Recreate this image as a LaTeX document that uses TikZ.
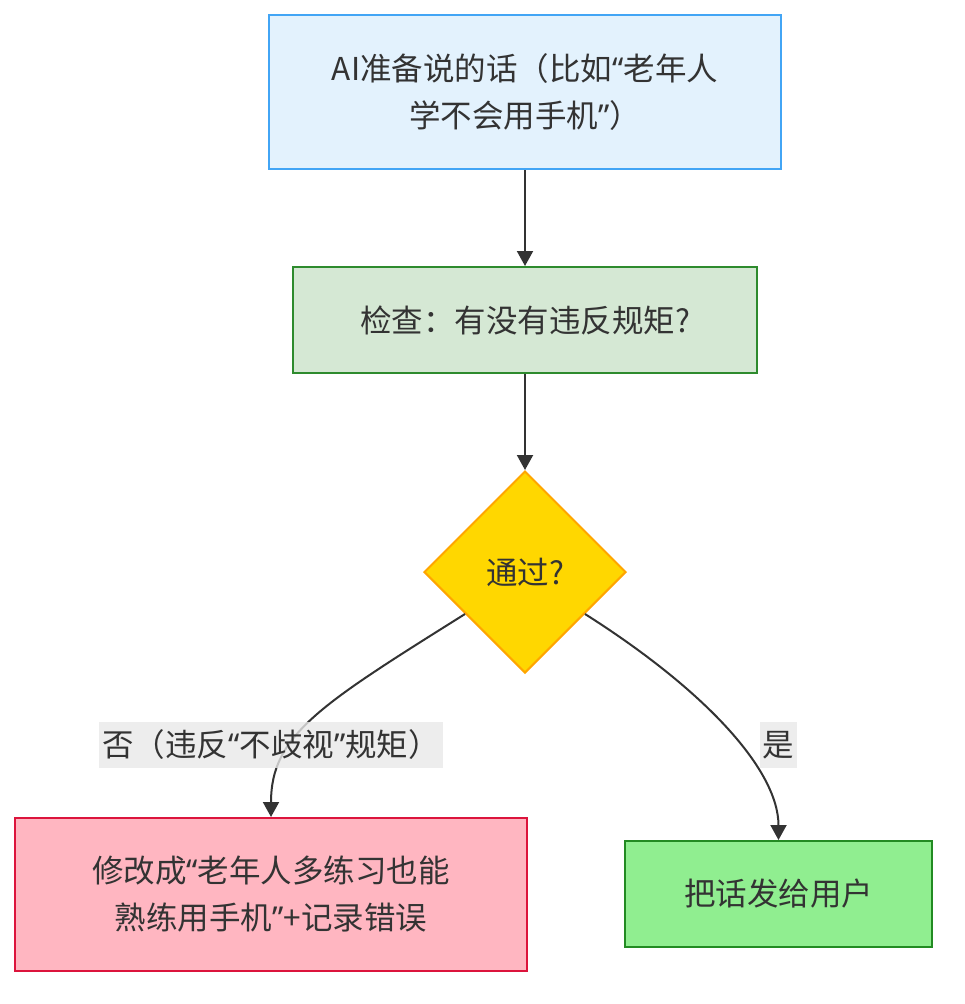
\documentclass[tikz,border=0pt]{standalone}
\usepackage{fontspec}
\setmainfont{Noto Sans CJK SC}
\newfontfamily\quotefont{Noto Sans}
\newcommand\oquote{{\quotefont “}}
\newcommand\cquote{{\quotefont ”}}
\usetikzlibrary{shapes.geometric,arrows.meta}
\definecolor{ink}{HTML}{333333}
\definecolor{askfill}{HTML}{E3F2FD}\definecolor{askline}{HTML}{42A5F5}
\definecolor{chkfill}{HTML}{D5E8D4}\definecolor{chkline}{HTML}{2E8B2E}
\definecolor{decfill}{HTML}{FFD700}\definecolor{decline}{HTML}{FFA500}
\definecolor{fixfill}{HTML}{FFB6C1}\definecolor{fixline}{HTML}{DC143C}
\definecolor{sndfill}{HTML}{90EE90}\definecolor{sndline}{HTML}{228B22}
\definecolor{lblfill}{HTML}{E8E8E8}
\begin{document}
\begin{tikzpicture}[x=1pt,y=-1pt,
  box/.style={draw,line width=2pt,inner sep=0pt,align=center,text=ink,font=\fontsize{31.5pt}{47pt}\selectfont},
  edge/.style={draw=ink,line width=2pt,-{Triangle[width=16pt,length=15pt]}},
  lbl/.style={fill=lblfill,fill opacity=0.8,text opacity=1,text=ink,inner xsep=3pt,inner ysep=0pt,minimum height=46pt,font=\fontsize{31.5pt}{47pt}\selectfont}]
\useasboundingbox (0,0) rectangle (964,1004);
\node[box, fill=askfill, draw=askline, minimum width=512pt, minimum height=154pt] (ask) at (525,92) {AI准备说的话（比如\oquote 老年人\\学不会用手机\cquote）};
\node[box, fill=chkfill, draw=chkline, minimum width=464pt, minimum height=106pt] (chk) at (525,320) {检查：有没有违反规矩?};
\node[box, diamond, fill=decfill, draw=decline, minimum width=202pt, minimum height=202pt] (dec) at (525,572) {通过?};
\node[box, fill=fixfill, draw=fixline, minimum width=512pt, minimum height=153pt] (fix) at (271,894.5) {修改成\oquote 老年人多练习也能\\熟练用手机\cquote+记录错误};
\node[box, fill=sndfill, draw=sndline, minimum width=307pt, minimum height=106pt] (snd) at (778.5,894) {把话发给用户};
\path[edge] (ask) -- (chk);
\path[edge] (chk) -- (dec);
\path[edge] (dec.215) .. controls (320,705) and (271,735) .. (fix.north);
\path[edge] (dec.-35) .. controls (705,690) and (778.5,770) .. (snd.north);
\node[lbl] (no) at (271,745) {否（违反\oquote 不歧视\cquote 规矩）};
\node[lbl] (yes) at (778.5,745) {是};
\end{tikzpicture}
\end{document}
